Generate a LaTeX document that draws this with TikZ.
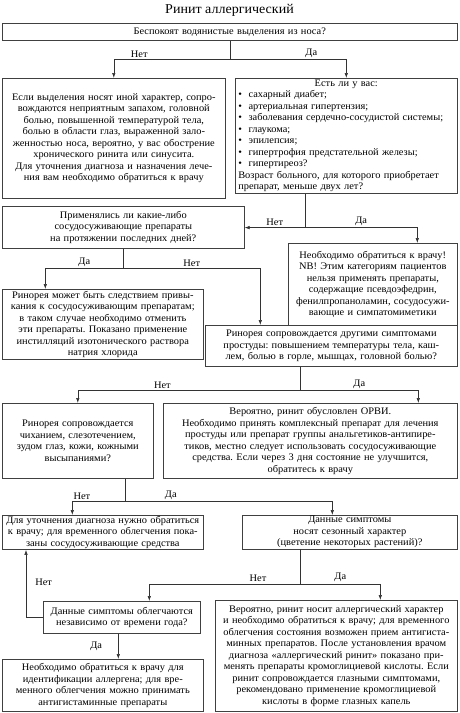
\documentclass[tikz,border=0pt]{standalone}
\usepackage{fontspec}
\setmainfont[FakeStretch=1.04]{Liberation Serif}
\frenchspacing
\usetikzlibrary{arrows.meta,positioning,calc}
\tikzset{
  qbox/.style={draw=black!75, line width=0.6pt, fill=white, anchor=north west, align=center, inner xsep=1.5pt, inner ysep=1pt, font=\fontsize{10}{11.5}\selectfont},
  flowline/.style={line width=0.6pt, draw=black!80},
  flowarrow/.style={-{Latex[length=5pt,width=3.5pt]}, line width=0.6pt, draw=black!80},
  answer/.style={font=\fontsize{10}{11.5}\selectfont, inner sep=1pt}
}

\begin{document}
\begin{tikzpicture}[x=1pt, y=-1pt]
    \useasboundingbox (0,0) rectangle (459,713);
    \node[font=\fontsize{13.5}{15}\selectfont] (title) at (229.5,10) {Ринит аллергический};
    % questions and answers
    \node[qbox, text width=452pt, minimum height=17pt] (q1) at (2,23) {Беспокоят водянистые выделения из носа?};
    \node[qbox, text width=220pt, minimum height=120pt] (b2) at (2,78) {Если выделения носят иной характер, сопро-\\вождаются неприятным запахом, головной\\болью, повышенной температурой тела,\\болью в области глаз, выраженной зало-\\женностью носа, вероятно, у вас обострение\\хронического ринита или синусита.\\Для уточнения диагноза и назначения лече-\\ния вам необходимо обратиться к врачу};
    \node[qbox, align=left, inner xsep=3pt, text width=216pt, minimum height=115pt] (b3) at (235,78) {\makebox[\linewidth][c]{Есть ли у вас:}\\•\ \ сахарный диабет;\\•\ \ артериальная гипертензия;\\•\ \ заболевания сердечно-сосудистой системы;\\•\ \ глаукома;\\•\ \ эпилепсия;\\•\ \ гипертрофия предстательной железы;\\•\ \ гипертиреоз?\\Возраст больного, для которого приобретает\\препарат, меньше двух лет?};
    \node[qbox, text width=239pt, minimum height=42pt] (b4) at (2,206) {Применялись ли какие-либо\\сосудосуживающие препараты\\на протяжении последних дней?};
    \node[qbox, text width=166pt, minimum height=82pt] (b5) at (288,243) {Необходимо обратиться к врачу!\\NB! Этим категориям пациентов\\нельзя применять препараты,\\содержащие псевдоэфедрин,\\фенилпропаноламин, сосудосужи-\\вающие и симпатомиметики};
    \node[qbox, text width=198pt, minimum height=70pt] (b6) at (2,289) {Ринорея может быть следствием привы-\\кания к сосудосуживающим препаратам;\\в таком случае необходимо отменить\\эти препараты. Показано применение\\инстилляций изотонического раствора\\натрия хлорида};
    \node[qbox, text width=249pt, minimum height=41pt] (b7) at (205,325) {Ринорея сопровождается другими симптомами\\простуды: повышением температуры тела, каш-\\лем, болью в горле, мышцах, головной болью?};
    \node[qbox, text width=148pt, minimum height=75pt] (b8) at (2,403) {Ринорея сопровождается\\чиханием, слезотечением,\\зудом глаз, кожи, кожными\\высыпаниями?};
    \node[qbox, text width=291pt, minimum height=75pt] (b9) at (163,403) {Вероятно, ринит обусловлен ОРВИ.\\Необходимо принять комплексный препарат для лечения\\простуды или препарат группы анальгетиков-антипире-\\тиков, местно следует использовать сосудосуживающие\\средства. Если через 3 дня состояние не улучшится,\\обратитесь к врачу};
    \node[qbox, text width=198pt, minimum height=33pt] (b10) at (2,515) {Для уточнения диагноза нужно обратиться\\к врачу; для временного облегчения пока-\\заны сосудосуживающие средства};
    \node[qbox, text width=212pt, minimum height=33pt] (b11) at (242,515) {Данные симптомы\\носят сезонный характер\\(цветение некоторых растений)?};
    \node[qbox, text width=154pt, minimum height=32pt] (b12) at (43,601) {Данные симптомы облегчаются\\независимо от времени года?};
    \node[qbox, text width=239pt, minimum height=111pt] (b13) at (215,600) {Вероятно, ринит носит аллергический характер\\и необходимо обратиться к врачу; для временного\\облегчения состояния возможен прием антигиста-\\минных препаратов. После установления врачом\\диагноза «аллергический ринит» показано при-\\менять препараты кромоглициевой кислоты. Если\\ринит сопровождается глазными симптомами,\\рекомендовано применение кромоглициевой\\кислоты в форме глазных капель};
    \node[qbox, text width=198pt, minimum height=52pt] (b14) at (2,659) {Необходимо обратиться к врачу для\\идентификации аллергена; для вре-\\менного облегчения можно принимать\\антигистаминные препараты};
    % connectors
    \draw[flowline] (q1.south) -- ++(0,19) coordinate (j1);
    \draw[flowarrow] (j1) -| node[answer, pos=0.39, above=1pt] {Нет} (b2.north);
    \draw[flowarrow] (j1) -| node[answer, pos=0.35, above=1pt] {Да} (b3.north);
    \coordinate (j2) at ($(b3.south west)+(70,34)$);
    \draw[flowline] (j2 |- b3.south) -- (j2);
    \draw[flowarrow] (j2) -- node[answer, above=1pt] {Нет} (j2 -| b4.east);
    \draw[flowarrow] (j2) -| node[answer, pos=0.25, above=1pt] {Да} ([xshift=44.5pt]b5.north);
    \draw[flowline] (b4.south) -- ++(0,20) coordinate (j3);
    \draw[flowarrow] (j3) -| node[answer, pos=0.25, above=1pt] {Да} ([xshift=-57.5pt]b6.north);
    \draw[flowarrow] (j3) -| node[answer, pos=0.25, above=1pt] {Нет} ([xshift=-71pt]b7.north);
    \draw[flowline] ([xshift=-31pt]b7.south) -- ++(0,24) coordinate (j4);
    \draw[flowarrow] (j4) -| node[answer, pos=0.31, above=1pt] {Нет} (b8.north);
    \draw[flowarrow] (j4) -| node[answer, pos=0.25, above=1pt] {Да} ([xshift=108pt]b9.north);
    \draw[flowline] ([xshift=47.5pt]b8.south) -- ++(0,23) coordinate (j5);
    \draw[flowarrow] (j5) -| node[answer, pos=0.41, above=1pt] {Нет} ([xshift=-30.5pt]b10.north);
    \draw[flowarrow] (j5) -| node[answer, pos=0.11, above=1pt] {Да} ([xshift=-17.5pt]b11.north);
    \draw[flowline] ([xshift=-49.5pt]b11.south) -- ++(0,35) coordinate (j6);
    \draw[flowarrow] (j6) -| node[answer, pos=0.14, above=1pt] {Нет} ([xshift=27.5pt]b12.north);
    \draw[flowarrow] (j6) -| node[answer, pos=0.25, above=1pt] {Да} ([xshift=44pt]b13.north);
    \draw[flowarrow] (b12.west) -| node[answer, pos=0.76, right=8pt] {Нет} ([xshift=24pt]b10.south west);
    \draw[flowarrow] ([xshift=-3.5pt]b12.south) -- node[answer, left=15pt] {Да} ([xshift=-3.5pt]b12.south |- b14.north);
\end{tikzpicture}
\end{document}
